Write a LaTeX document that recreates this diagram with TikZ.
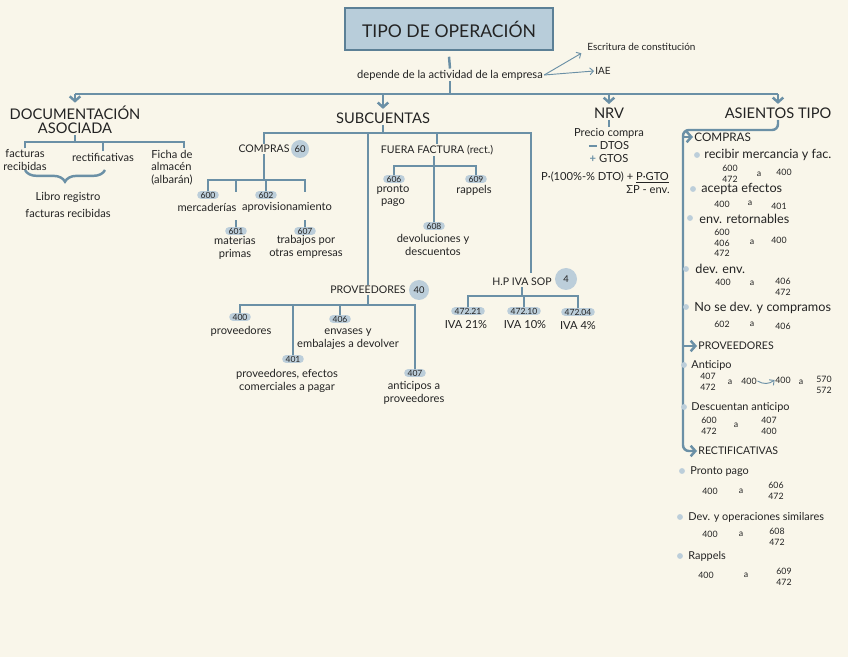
\documentclass[tikz,border=0pt]{standalone}
\usepackage{fontspec}
\setmainfont{Lato}
\usepackage{tikz}
\usetikzlibrary{arrows.meta,positioning,calc,decorations.pathreplacing}
\definecolor{paper}{RGB}{249,246,234}
\definecolor{lineblue}{RGB}{107,144,166}
\definecolor{pillblue}{RGB}{188,206,218}
\definecolor{titlefill}{RGB}{184,205,218}
\definecolor{titleedge}{RGB}{92,128,150}
\definecolor{ink}{RGB}{35,35,35}

\tikzset{
  conn/.style={draw=lineblue, line width=2.1pt},
  connarr/.style={conn, -{Straight Barb[length=4pt,width=9pt]}, shorten >=2pt},
  thinarr/.style={draw=lineblue, line width=0.8pt, -{Straight Barb[length=3pt,width=6pt]}},
  titlebox/.style={draw=titleedge, fill=titlefill, line width=1.5pt, minimum width=6.24cm, minimum height=1.26cm, font=\fontsize{15}{16}\selectfont, text=ink},
  heading/.style={font=\fontsize{12.5}{14}\selectfont, text=ink, align=center, inner sep=1pt},
  caps/.style={font=\fontsize{9}{10}\selectfont, text=ink, inner sep=1pt},
  lbl/.style={font=\fontsize{9.5}{10.5}\selectfont, text=ink, align=center, inner sep=1pt},
  acct/.style={fill=pillblue, rounded corners=3pt, inner xsep=2.8pt, inner ysep=0.6pt, font=\fontsize{7.3}{8}\selectfont, text=ink},
  badge/.style={circle, fill=pillblue, inner sep=0pt, font=\fontsize{8}{9}\selectfont, text=ink},
  dot/.style={circle, fill=pillblue, inner sep=0pt, minimum size=5pt},
  item/.style={anchor=west, font=\fontsize{10.8}{11}\selectfont, text=ink, inner sep=1pt},
  itemsm/.style={item, font=\fontsize{9.3}{10}\selectfont},
  subhead/.style={anchor=west, font=\fontsize{9}{10}\selectfont, text=ink, inner sep=1pt},
  amt/.style={font=\fontsize{7.5}{9}\selectfont, text=ink, align=center, inner sep=0.5pt},
}

\begin{document}
\begin{tikzpicture}[x=0.03cm, y=-0.03cm]
    % Paper
    \fill[paper] (0,0) rectangle (848,657);
    \useasboundingbox (0,0) rectangle (848,657);

    % Title and what it depends on
    \node[titlebox] (tipo) at (449,29) {TIPO DE OPERACIÓN};
    \node[lbl] (dep) at (450,75) {depende de la actividad de la empresa};
    \node[lbl, font=\fontsize{8.5}{9}\selectfont, anchor=west] (escr) at (586,47) {Escritura de constitución};
    \node[lbl, font=\fontsize{8.5}{9}\selectfont, anchor=west] (iae) at (594,71) {IAE};
    \draw[conn] ([yshift=-5pt]tipo.south) -- (dep.north);
    \draw[thinarr] (dep.east) -- ([xshift=-4pt,yshift=-1pt]escr.south west);
    \draw[thinarr] (dep.east) -- (iae.west);

    % Four main branches
    \node[heading, font=\fontsize{12.5}{11.5}\selectfont] (doc) at (75,120) {DOCUMENTACIÓN\\ASOCIADA};
    \node[heading] (sub) at (383,118) {SUBCUENTAS};
    \node[heading] (nrv) at (609,113) {NRV};
    \node[heading] (asi) at (778,113) {ASIENTOS TIPO};
    \coordinate (topbar) at (0,94);
    \draw[conn] (dep.south) -- (dep.south |- topbar);
    \draw[conn] (doc.north |- topbar) -- (asi.north |- topbar);
    \foreach \n in {doc,sub,nrv,asi}
      \draw[connarr] (\n.north |- topbar) -- (\n.north);

    % Documentacion asociada
    \node[lbl] (fact) at (25,160) {facturas\\recibidas};
    \node[lbl] (rect) at (103,157) {rectificativas};
    \node[lbl, align=left, anchor=north west] (ficha) at (150,149) {Ficha de\\almacén\\(albarán)};
    \coordinate (docbar) at (0,142);
    \coordinate (fichatop) at (184,148);
    \draw[conn] (doc.south) -- (doc.south |- docbar);
    \draw[conn] (fact.north) |- (fichatop |- docbar) -- (fichatop);
    \draw[conn] (rect.north) -- (rect.north |- docbar);
    \draw[conn, decorate, decoration={brace, mirror, amplitude=10pt}] (25,170) -- (105,170);
    \node[lbl] (libro) at (68,205) {Libro registro\\[4.5pt]facturas recibidas};

    % Subcuentas: the four groups
    \node[caps] (compras) at (264,149) {COMPRAS};
    \node[badge, minimum size=0.54cm] (b60) at (300,149) {60};
    \node[caps] (fuera) at (437,150) {FUERA FACTURA (rect.)};
    \node[caps] (prov) at (368,290) {PROVEEDORES};
    \node[badge, minimum size=0.6cm] (b40) at (419,290) {40};
    \node[caps] (iva) at (522,282) {H.P IVA SOP};
    \node[badge, minimum size=0.66cm] (b4) at (566,279) {4};
    \coordinate (subbar) at (0,133);
    \coordinate (ivatop) at (531,273);
    \draw[conn] (sub.south) -- (sub.south |- subbar);
    \draw[conn] (compras.north) |- (ivatop |- subbar) -- (ivatop);
    \draw[conn] (prov.north) -- (prov.north |- subbar);
    \draw[conn] (fuera.north) -- (fuera.north |- subbar);

    % Compras 60
    \node[acct] (a600) at (208,195) {600};
    \node[lbl] (merc) at (207,207) {mercaderías};
    \node[acct] (a602) at (266,195) {602};
    \node[lbl] (aprov) at (287,207) {aprovisionamiento};
    \node[acct] (a601) at (236,231) {601};
    \node[lbl] (mat) at (235,248) {materias\\primas};
    \node[acct] (a607) at (305,231) {607};
    \node[lbl] (trab) at (306,247) {trabajos por\\otras empresas};
    \coordinate (cbar) at (0,180);
    \draw[conn] (compras.south) -- (compras.south |- cbar);
    \draw[conn] (a600.north) |- (a607.north |- cbar) -- ++(0,12);
    \draw[conn] (a601.north |- cbar) -- ++(0,12);
    \draw[conn] (a602.north) -- (a602.north |- cbar);
    \draw[conn] (a601.north) -- ++(0,-7);
    \draw[conn] (a607.north) -- ++(0,-7);

    % Fuera factura
    \node[acct] (a606) at (394,179) {606};
    \node[lbl] (pronto) at (393,196) {pronto\\pago};
    \node[acct] (a609) at (476,179) {609};
    \node[lbl] (rapp) at (474,190) {rappels};
    \node[acct] (a608) at (434,226) {608};
    \node[lbl] (devol) at (433,245) {devoluciones y\\descuentos};
    \coordinate (fbar) at (0,166);
    \draw[conn] (a608.north) -- (a608.north |- fuera.south);
    \draw[conn] (a606.north) |- (a609.north |- fbar) -- (a609.north);

    % Proveedores 40
    \node[acct] (a400) at (240,317) {400};
    \node[lbl] (provs) at (241,331) {proveedores};
    \node[acct] (a406) at (340,319) {406};
    \node[lbl] (env) at (348,339) {envases y\\embalajes a devolver};
    \node[acct] (a401) at (293,359) {401};
    \node[lbl] (pefe) at (287,381) {proveedores, efectos\\comerciales a pagar};
    \node[acct] (a407) at (415,373) {407};
    \node[lbl] (anti) at (414,393) {anticipos a\\proveedores};
    \coordinate (pbar) at (0,305);
    \draw[conn] (prov.south) -- (prov.south |- pbar);
    \draw[conn] (a400.north) |- (a407.north |- pbar) -- (a407.north);
    \draw[conn] (a401.north) -- (a401.north |- pbar);
    \draw[conn] (a406.north) -- (a406.north |- pbar);

    % H.P IVA soportado
    \node[acct] (a21) at (468,311) {472.21};
    \node[lbl] (iva21) at (466,325) {IVA 21\%};
    \node[acct] (a10) at (524,311) {472.10};
    \node[lbl] (iva10) at (525,325) {IVA 10\%};
    \node[acct] (a04) at (578,312) {472.04};
    \node[lbl] (iva4) at (578,326) {IVA 4\%};
    \coordinate (ibar) at (0,296);
    \draw[conn] (iva.south) -- (iva.south |- ibar);
    \draw[conn] (a21.north) |- (a04.north |- ibar) -- (a04.north);
    \draw[conn] (a10.north) -- (a10.north |- ibar);

    % NRV
    \node[lbl] (precio) at (609,133) {Precio compra};
    \node[lbl] (dtos) at (609,146) {\textcolor{lineblue}{\rule[2.6pt]{7pt}{1.8pt}}\ DTOS};
    \node[lbl] (gtos) at (609,159) {\textcolor{lineblue}{\textbf{+}}\ GTOS};
    \node[lbl] (form) at (605,177) {P·(100\%-\% DTO) + \underline{P·GTO}};
    \node[lbl, anchor=east] (sump) at (671,190) {ΣP - env.};
    \draw[conn, line width=1.2pt] (nrv.south) -- (precio.north);

    % Asientos tipo: headings on the left rail
    \node[subhead, font=\fontsize{10}{11}\selectfont] (comp2) at (693,137) {COMPRAS};
    \node[subhead] (prov2) at (697,346) {PROVEEDORES};
    \node[subhead] (rectif) at (697,451) {RECTIFICATIVAS};
    \coordinate (acorner) at (683,130);
    \draw[connarr, shorten >=0pt, rounded corners=5pt] (asi.south) |- (acorner) |- (rectif.west);
    \draw[connarr, shorten >=0pt] (acorner |- comp2.west) -- (comp2.west);
    \draw[connarr, shorten >=0pt] (acorner |- prov2.west) -- (prov2.west);

    % Compras entries
    \node[dot] (d1) at (697,155) {};
    \node[item] (t1) at (703,155) {recibir mercancia y fac.};
    \node[amt] (e1a) at (730,174) {600\\472};
    \node[amt] (e1b) at (759,174) {a};
    \node[amt] (e1c) at (784,172) {400};
    \node[dot] (d2) at (693,189) {};
    \node[item] (t2) at (700,189) {acepta efectos};
    \node[amt] (e2a) at (722,204) {400};
    \node[amt] (e2b) at (750,203) {a};
    \node[amt] (e2c) at (779,206) {401};
    \node[dot] (d3) at (690,218) {};
    \node[item] (t3) at (698,219) {env. retornables};
    \node[amt] (e3a) at (722,243) {600\\406\\472};
    \node[amt] (e3b) at (752,242) {a};
    \node[amt] (e3c) at (779,240) {400};
    \node[dot] (d4) at (686,269) {};
    \node[item] (t4) at (694,269) {dev. env.};
    \node[amt] (e4a) at (723,282) {400};
    \node[amt] (e4b) at (752,283) {a};
    \node[amt] (e4c) at (783,287) {406\\472};
    \node[dot] (d5) at (686,307) {};
    \node[item] (t5) at (693,308) {No se dev. y compramos};
    \node[amt] (e5a) at (722,324) {602};
    \node[amt] (e5b) at (752,324) {a};
    \node[amt] (e5c) at (783,326) {406};

    % Proveedores entries
    \node[dot] (d6) at (684,365) {};
    \node[itemsm] (t6) at (690,365) {Anticipo};
    \node[amt] (e6a) at (708,382) {407\\472};
    \node[amt] (e6b) at (730,382) {a};
    \node[amt] (e6c) at (749,381) {400};
    \node[amt] (e6d) at (783,380) {400};
    \node[amt] (e6e) at (801,382) {a};
    \node[amt] (e6f) at (824,385) {570\\572};
    \draw[thinarr] (e6c.east) to[bend right=35] (e6d.west);
    \node[dot] (d7) at (684,407) {};
    \node[itemsm] (t7) at (690,407) {Descuentan anticipo};
    \node[amt] (e7a) at (709,426) {600\\472};
    \node[amt] (e7b) at (736,425) {a};
    \node[amt] (e7c) at (769,426) {407\\400};

    % Rectificativas entries
    \node[dot] (d8) at (682,471) {};
    \node[itemsm] (t8) at (689,472) {Pronto pago};
    \node[amt] (e8a) at (710,491) {400};
    \node[amt] (e8b) at (741,491) {a};
    \node[amt] (e8c) at (776,491) {606\\472};
    \node[dot] (d9) at (680,517) {};
    \node[itemsm] (t9) at (687,517) {Dev. y operaciones similares};
    \node[amt] (e9a) at (710,534) {400};
    \node[amt] (e9b) at (741,534) {a};
    \node[amt] (e9c) at (777,537) {608\\472};
    \node[dot] (d10) at (680,556) {};
    \node[itemsm] (t10) at (687,556) {Rappels};
    \node[amt] (e10a) at (706,575) {400};
    \node[amt] (e10b) at (746,575) {a};
    \node[amt] (e10c) at (784,577) {609\\472};
\end{tikzpicture}
\end{document}
